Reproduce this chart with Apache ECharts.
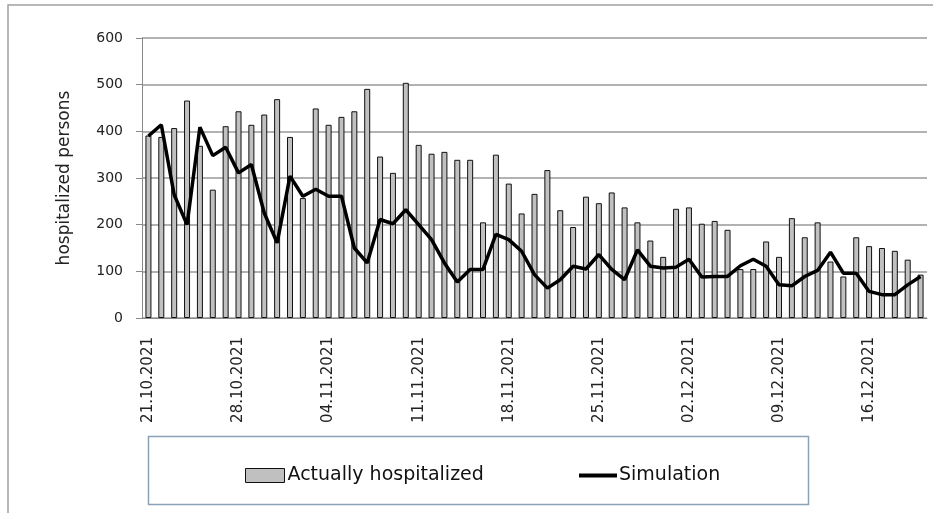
<!DOCTYPE html>
<html>
<head>
<meta charset="utf-8">
<script src="https://cdn.jsdelivr.net/npm/echarts@6/dist/echarts.min.js"></script>
<style>
    html, body { margin: 0; padding: 0; background: #fff; }
    #chart { width: 933px; height: 513px; }
</style>
</head>
<body>
<div id="chart"></div>
<script>
var dates = [
    '21.10.2021', '22.10.2021', '23.10.2021', '24.10.2021', '25.10.2021', '26.10.2021', '27.10.2021',
    '28.10.2021', '29.10.2021', '30.10.2021', '31.10.2021', '01.11.2021', '02.11.2021', '03.11.2021',
    '04.11.2021', '05.11.2021', '06.11.2021', '07.11.2021', '08.11.2021', '09.11.2021', '10.11.2021',
    '11.11.2021', '12.11.2021', '13.11.2021', '14.11.2021', '15.11.2021', '16.11.2021', '17.11.2021',
    '18.11.2021', '19.11.2021', '20.11.2021', '21.11.2021', '22.11.2021', '23.11.2021', '24.11.2021',
    '25.11.2021', '26.11.2021', '27.11.2021', '28.11.2021', '29.11.2021', '30.11.2021', '01.12.2021',
    '02.12.2021', '03.12.2021', '04.12.2021', '05.12.2021', '06.12.2021', '07.12.2021', '08.12.2021',
    '09.12.2021', '10.12.2021', '11.12.2021', '12.12.2021', '13.12.2021', '14.12.2021', '15.12.2021',
    '16.12.2021', '17.12.2021', '18.12.2021', '19.12.2021', '20.12.2021'
];
// Actually hospitalized (bars)
var actualValues = [
    391, 388, 407, 466, 369, 275, 411, 443, 414, 436, 469, 388, 257, 449, 414, 431, 443, 491, 346, 311, 504,
    371, 352, 356, 339, 339, 205, 350, 288, 224, 266, 317, 231, 195, 260, 246, 269, 237, 205, 166, 131, 234,
    237, 202, 208, 189, 105, 105, 164, 131, 214, 173, 205, 121, 89, 173, 154, 150, 144, 125, 93
];
// Simulation (line)
var simValues = [
    390, 414, 264, 200, 409, 348, 366, 311, 329, 225, 161, 304, 261, 276, 261, 261, 150, 118, 211, 202, 232,
    200, 168, 118, 77, 104, 104, 179, 168, 143, 93, 64, 82, 111, 105, 136, 104, 82, 146, 111, 107, 109,
    126, 88, 89, 89, 112, 126, 111, 71, 69, 89, 102, 141, 96, 96, 57, 50, 50, 71, 89
];
var yTicks = [0, 100, 200, 300, 400, 500, 600];

var myChart = echarts.init(document.getElementById('chart'));
var font = 'DejaVu Sans';

var option = {
    animation: false,
    backgroundColor: '#fff',
    textStyle: { fontFamily: font },
    grid: { left: 142, right: 6, top: 38, bottom: 195 },
    graphic: [
        // outer chart border
        { type: 'rect', z: -10, shape: { x: 8, y: 5, width: 940, height: 520 },
          style: { fill: '#fff', stroke: '#a0a0a0', lineWidth: 1.5 } },
        // legend box
        { type: 'rect', z: 1, shape: { x: 148.5, y: 436.5, width: 660, height: 68 },
          style: { fill: '#fff', stroke: '#8aa2b6', lineWidth: 1.5 } }
    ],
    legend: [{
        left: 240, top: 461,
        itemWidth: 39, itemHeight: 14, itemGap: 4,
        textStyle: { fontFamily: font, fontSize: 19, color: '#111', padding: [0, 0, 0, -2] },
        data: [{ name: 'Actually hospitalized', icon: 'rect',
                 itemStyle: { color: '#c0c0c0', borderColor: '#111', borderWidth: 1 } }]
    }, {
        left: 574, top: 461,
        itemWidth: 38, itemHeight: 4,
        textStyle: { fontFamily: font, fontSize: 19, color: '#111', padding: [0, 0, 0, -3] },
        data: [{ name: 'Simulation', icon: 'rect', itemStyle: { color: '#000' } }]
    }],
    xAxis: {
        type: 'category',
        data: dates,
        boundaryGap: true,
        axisLine: { lineStyle: { color: '#888', width: 1 } },
        axisTick: { interval: 6, length: 6, alignWithLabel: false, lineStyle: { color: '#888' } },
        axisLabel: { interval: 6, rotate: 90, margin: 19, fontFamily: font, fontSize: 15, color: '#222' }
    },
    yAxis: {
        type: 'value',
        min: yTicks[0],
        max: yTicks[yTicks.length - 1],
        interval: 100,
        name: 'hospitalized persons',
        nameLocation: 'middle',
        nameRotate: 90,
        nameGap: 69,
        nameTextStyle: { fontFamily: font, fontSize: 17, color: '#222' },
        axisLine: { show: true, lineStyle: { color: '#888' } },
        axisTick: { show: true, length: 6, lineStyle: { color: '#888' } },
        axisLabel: { margin: 19, fontFamily: font, fontSize: 14, color: '#222' },
        splitLine: { lineStyle: { color: '#999', width: 1.5 } }
    },
    series: [{
        name: 'Actually hospitalized',
        type: 'bar',
        barWidth: 6,
        itemStyle: { color: '#c0c0c0', borderColor: '#111', borderWidth: 1 },
        data: actualValues
    }, {
        name: 'Simulation',
        type: 'line',
        symbol: 'none',
        lineStyle: { color: '#000', width: 3.5 },
        itemStyle: { color: '#000' },
        data: simValues
    }]
};

myChart.setOption(option);
</script>
</body>
</html>
